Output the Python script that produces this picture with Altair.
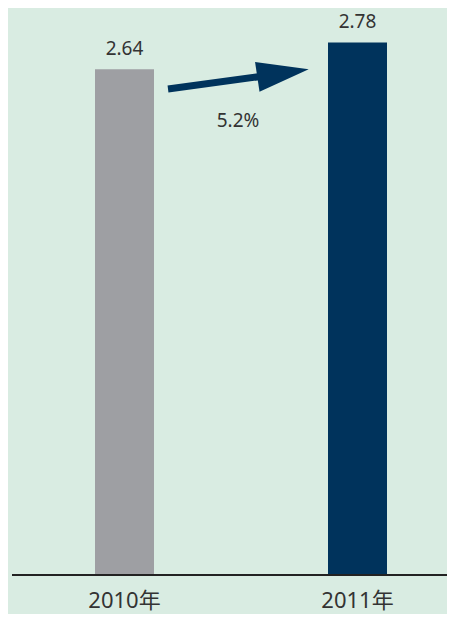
import altair as alt
import pandas as pd

years = ["2010年", "2011年"]
values = [2.64, 2.78]
value_labels = ["2.64", "2.78"]
bar_colors = ["#9e9fa3", "#00335c"]
growth_label = "5.2%"

FONT = "Noto Sans, Noto Sans CJK SC, sans-serif"
TEXT = "#333333"
NAVY = "#00335c"

df = pd.DataFrame({"year": years, "value": values, "label": value_labels, "color": bar_colors})

x = alt.X("year:N", sort=years,
          scale=alt.Scale(domain=years, range=[0, 466], paddingInner=0, paddingOuter=0),
          axis=alt.Axis(title=None, domain=False, ticks=False, tickSize=0, grid=False,
                        labelAngle=0, labelFont=FONT, labelFontSize=22, labelColor=TEXT,
                        labelBaseline="alphabetic", labelPadding=32))
y = alt.Y("value:Q", scale=alt.Scale(domain=[0, 2.96], nice=False, zero=True), axis=None)

base = alt.Chart(df)

bars = base.mark_bar(width=59).encode(
    x=x, y=y, color=alt.Color("color:N", scale=None))

labels = base.mark_text(font=FONT, fontSize=19, color=TEXT, baseline="alphabetic", dy=-14).encode(
    x=x, y=y, text="label:N")

baseline = alt.Chart(pd.DataFrame({"v": [0]})).mark_rule(color="#222222", strokeWidth=2).encode(
    y=alt.Y("v:Q", scale=alt.Scale(domain=[0, 2.96], nice=False), axis=None),
    x=alt.value(4), x2=alt.value(439))

ann = pd.DataFrame({"t": [growth_label]})
shaft = alt.Chart(ann).mark_rule(color=NAVY, strokeWidth=7).encode(
    x=alt.value(160), y=alt.value(81), x2=alt.value(256), y2=alt.value(68))
head = alt.Chart(ann).mark_point(
    shape="M1,0L-1,-0.58L-1,0.58Z", filled=True, color=NAVY, opacity=1, size=2704, angle=351.5
).encode(x=alt.value(275), y=alt.value(65))
growth = alt.Chart(ann).mark_text(font=FONT, fontSize=19, color=TEXT, baseline="alphabetic").encode(
    x=alt.value(230), y=alt.value(119), text="t:N")

chart = alt.layer(bars, labels, baseline, shaft, head, growth).properties(
    width=439, height=567,
    padding={"left": 0, "top": 0, "right": 0, "bottom": 39},
    autosize=alt.AutoSizeParams(type="none"),
    background="#d9ece2",
).configure_view(stroke=None)

chart.save("out.html", embed_options={"renderer": "svg", "actions": False})
